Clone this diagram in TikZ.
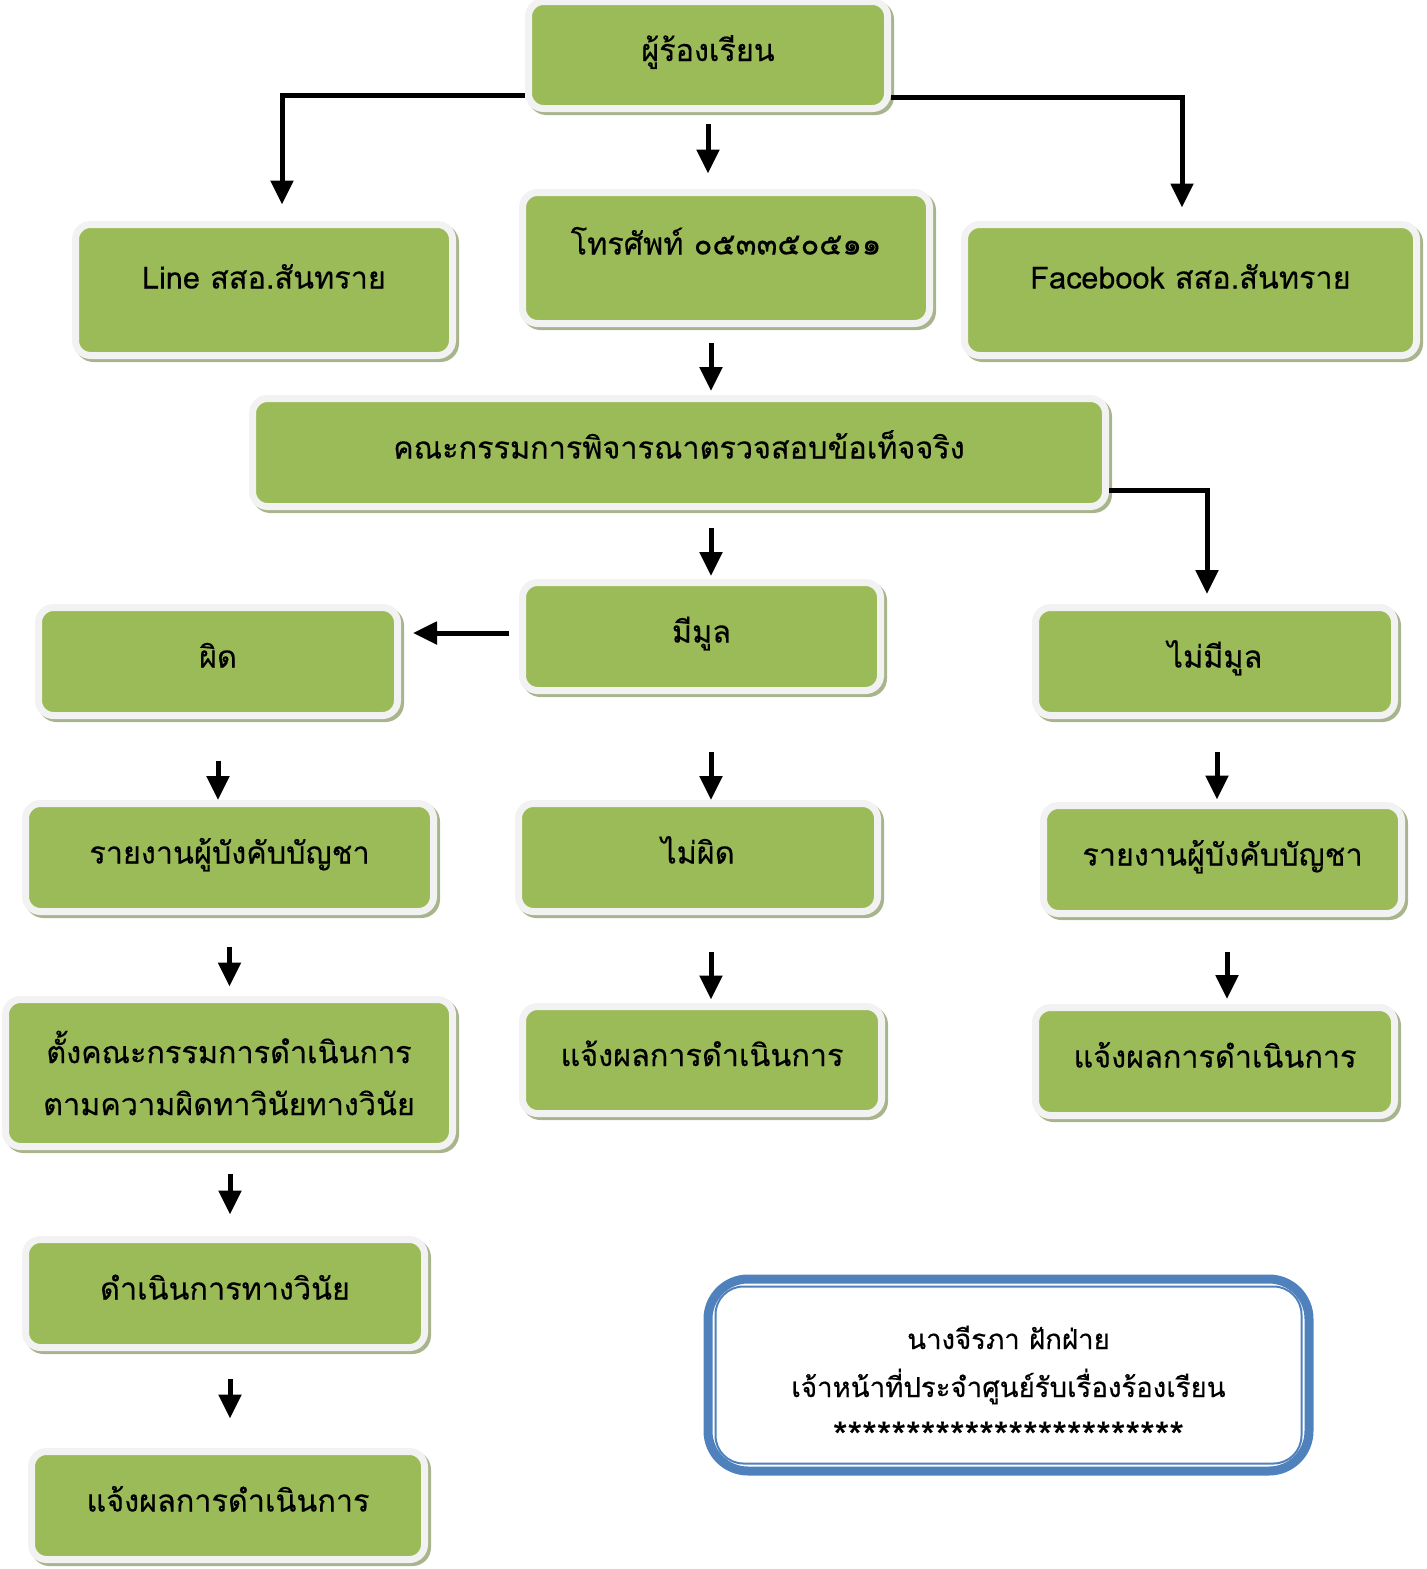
\documentclass[tikz,border=0pt]{standalone}
\usepackage{fontspec}
\setmainfont[Script=Thai,FakeBold=0.4]{Loma}
\usepackage{xcolor}
\usepackage{tikz}
\usetikzlibrary{positioning,calc,arrows.meta}

\definecolor{boxgreen}{RGB}{155,187,89}
\definecolor{boxrim}{RGB}{242,242,242}
\definecolor{boxshade}{RGB}{168,180,140}
\definecolor{noteblue}{RGB}{79,129,189}

\tikzset{
    greenbox/.style={draw=boxrim, line width=3.5pt, fill=boxgreen, rounded corners=7.5pt,
        inner sep=0pt, align=center, font=\fontsize{15.3}{26}\selectfont,
        text height=1.2em, text depth=0.6em,
        preaction={draw=boxshade, line width=3.5pt, transform canvas={shift={(1.5pt,-1.5pt)}}}},
    boxsize/.style 2 args={minimum width=#1*0.5pt, minimum height=#2*0.5pt},
    arr/.style={line width=2.5pt, -{Triangle[width=11pt,length=12pt]}},
}

\begin{document}
\begin{tikzpicture}[x=0.5pt, y=0.5pt]
    \useasboundingbox (0,0) rectangle (1426,-1569);

    \node [greenbox, boxsize={359}{107}] (complain) at (708,-55) {ผู้ร้องเรียน};
    \node [greenbox, boxsize={377}{131}, text depth=1.35em] (line) at (264,-290) {Line สสอ.สันทราย};
    \node [greenbox, boxsize={407}{131}, text depth=1.55em] (phone) at (726,-258) {โทรศัพท์ ๐๕๓๓๕๐๕๑๑};
    \node [greenbox, boxsize={452}{131}, text depth=1.35em] (fb) at (1190.5,-290) {Facebook สสอ.สันทราย};
    \node [greenbox, boxsize={853}{108}] (panel) at (679,-452.5) {คณะกรรมการพิจารณาตรวจสอบข้อเท็จจริง};

    \node [greenbox, boxsize={358}{108}] (found) at (701.5,-636.5) {มีมูล};
    \node [greenbox, boxsize={359}{108}] (guilty) at (218,-661.5) {ผิด};
    \node [greenbox, boxsize={359}{108}] (nofound) at (1215,-661.5) {ไม่มีมูล};

    \node [greenbox, boxsize={408}{108}] (reportL) at (229.5,-857.5) {รายงานผู้บังคับบัญชา};
    \node [greenbox, boxsize={359}{108}] (innocent) at (698,-857.5) {ไม่ผิด};
    \node [greenbox, boxsize={358}{108}] (reportR) at (1222.5,-859.5) {รายงานผู้บังคับบัญชา};

    \node [greenbox, boxsize={447}{147}, text height=, text depth=] (committee) at (229,-1073)
        {ตั้งคณะกรรมการดำเนินการ\\ตามความผิดทาวินัยทางวินัย};
    \node [greenbox, boxsize={359}{107}] (notifyM) at (702,-1060) {แจ้งผลการดำเนินการ};
    \node [greenbox, boxsize={359}{108}] (notifyR) at (1215,-1061.5) {แจ้งผลการดำเนินการ};

    \node [greenbox, boxsize={399}{108}] (discipline) at (225,-1293.5) {ดำเนินการทางวินัย};
    \node [greenbox, boxsize={393}{108}] (notifyL) at (228,-1505.5) {แจ้งผลการดำเนินการ};

    % officer note
    \node [draw=noteblue, line width=4.5pt, fill=white, rounded corners=20pt, boxsize={601}{192},
        align=center, font=\fontsize{13.8}{24}\selectfont] (note) at (1008.5,-1375)
        {\rule{0pt}{24pt}นางจีรภา ฝักฝ่าย\\เจ้าหน้าที่ประจำศูนย์รับเรื่องร้องเรียน\\[2pt]{\fontsize{18.8}{20}\selectfont ************************}};
    \draw [noteblue, line width=1pt, rounded corners=14pt] ([shift={(6pt,6pt)}]note.south west) rectangle ([shift={(-6pt,-6pt)}]note.north east);

    % connectors
    \draw [arr, shorten >=8.25pt] ([yshift=-20pt]complain.west) -| ([xshift=9pt]line.north);
    \draw [arr, shorten >=6.75pt] ([yshift=-21pt]complain.east) -| ([xshift=-4.25pt]fb.north);
    \draw [arr, shorten <=5.75pt, shorten >=7.75pt] (complain.south) -- (complain.south |- phone.north);
    \draw [arr, shorten <=8pt, shorten >=2pt] ([xshift=-7.5pt]phone.south) -- ([xshift=-7.5pt]phone.south |- panel.north);
    \draw [arr, shorten <=9pt, shorten >=1.5pt] ([xshift=16pt]panel.south) -- ([xshift=16pt]panel.south |- found.north);
    \draw [arr, shorten >=5pt] ([yshift=-19pt]panel.east) -| ([xshift=-4pt]nofound.north);
    \draw [arr, shorten <=5pt, shorten >=6pt] ([yshift=1.75pt]found.west) -- ([yshift=1.75pt]found.west -| guilty.east);

    \draw [arr, shorten <=20.75pt] (guilty.south) -- (guilty.south |- reportL.north);
    \draw [arr, shorten <=28.75pt] ([xshift=4.75pt]found.south) -- ([xshift=4.75pt]found.south |- innocent.north);
    \draw [arr, shorten <=16.25pt, shorten >=1.25pt] ([xshift=1pt]nofound.south) -- ([xshift=1pt]nofound.south |- reportR.north);

    \draw [arr, shorten <=15.75pt, shorten >=4.75pt] (reportL.south) -- (reportL.south |- committee.north);
    \draw [arr, shorten <=18.25pt, shorten >=1.75pt] ([xshift=6.5pt]innocent.south) -- ([xshift=6.5pt]innocent.south |- notifyM.north);
    \draw [arr, shorten <=17.5pt, shorten >=2.5pt] ([xshift=2.25pt]reportR.south) -- ([xshift=2.25pt]reportR.south |- notifyR.north);

    \draw [arr, shorten <=11.75pt, shorten >=10.75pt] ([xshift=0.5pt]committee.south) -- ([xshift=0.5pt]committee.south |- discipline.north);
    \draw [arr, shorten <=13.75pt, shorten >=14.75pt] ([xshift=2.5pt]discipline.south) -- ([xshift=2.5pt]discipline.south |- notifyL.north);
\end{tikzpicture}
\end{document}
